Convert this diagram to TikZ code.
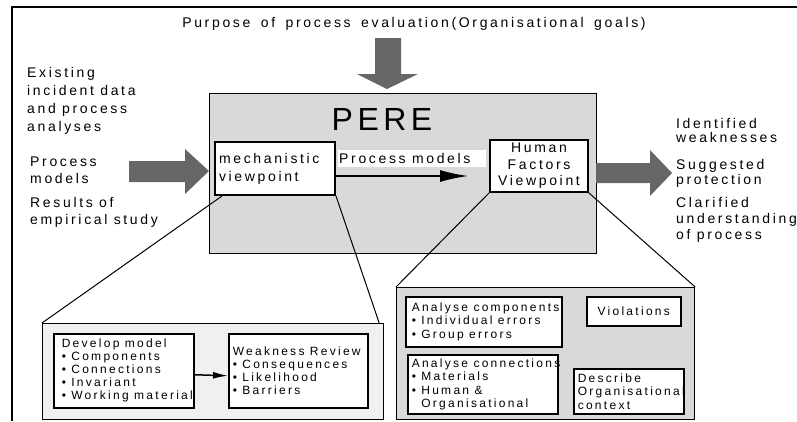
\documentclass[tikz,border=0pt]{standalone}
\usepackage{fontspec}
\setmainfont{Liberation Sans}[LetterSpace=19, WordSpace=1.6]
\usetikzlibrary{arrows.meta}
\hyphenpenalty=10000

\definecolor{perefill}{gray}{0.85}
\definecolor{zoomfill}{gray}{0.94}
\definecolor{arrowfill}{gray}{0.4}

\begin{document}
\begin{tikzpicture}[x=1pt,y=-1pt,
	widespace/.style={execute at begin node={\spaceskip=.45em\relax}},
	sidetext/.style={widespace, anchor=base west, align=left, inner sep=0pt, font=\fontsize{14}{18}\selectfont},
	outtext/.style={sidetext, font=\fontsize{14}{15}\selectfont},
	viewbox/.style={widespace, draw, line width=2pt, fill=white, anchor=north west, inner xsep=4pt, inner ysep=0pt, font=\fontsize{14}{18}\selectfont},
	itembox/.style={widespace, draw, line width=1.5pt, fill=white, anchor=north west, inner xsep=4pt, inner ysep=0pt, align=left, font=\fontsize{12}{13}\selectfont},
	zoombox/.style={draw, line width=1.2pt, anchor=north west, inner sep=0pt},
	zoomline/.style={line width=1pt},
	blockarrow/.style={fill=arrowfill}]
	\useasboundingbox (0,0) rectangle (797,421);
	% frame
	\draw[line width=1.5pt] (12,421) -- (12,7) -- (797,7);

	% goals
	\node[anchor=base, inner sep=0pt, font=\fontsize{14}{18}\selectfont] (goals) at (414,27) {Purpose of process evaluation(Organisational goals)};
	\fill[blockarrow] (375,38) -- (401,38) -- (401,74) -- (418,74) -- (387,89) -- (357,74) -- (375,74) -- cycle;

	% inputs
	\node[sidetext] (existing) at (27,131) {Existing\\incident data\\and process\\analyses};
	\node[sidetext, font=\fontsize{14}{17}\selectfont] (procin) at (30,183) {Process\\models};
	\node[sidetext, font=\fontsize{14}{17}\selectfont] (results) at (30,224) {Results of\\empirical study};
	\fill[blockarrow] (129,161) -- (185,161) -- (185,149) -- (209,171) -- (185,194) -- (185,182) -- (129,182) -- cycle;

	% PERE
	\node[draw, line width=1.2pt, fill=perefill, minimum width=387pt, minimum height=160pt, anchor=north west] (pere) at (209,93) {};
	\node[anchor=base, inner sep=0pt, font=\fontsize{32}{32}\selectfont\addfontfeature{LetterSpace=14}] (title) at (382,130) {PERE};
	\node[viewbox, text width=112pt, minimum height=53pt, align=left] (mech) at (214,141) {mechanistic\\viewpoint};
	\node[viewbox, text width=90pt, minimum height=52pt, align=center, font=\fontsize{14}{16.5}\selectfont] (hf) at (489,139) {Human\\Factors\\Viewpoint};
	\node[widespace, fill=white, anchor=north west, text width=146pt, minimum height=17pt, inner xsep=1pt, inner ysep=0pt, align=left, font=\fontsize{14}{17}\selectfont] (modellabel) at (338,150) {Process models};
	\coordinate (modelend) at (468,176);
	\draw[line width=1.5pt, -{Latex[length=28pt,width=12pt]}] (mech.east |- modelend) -- (modelend);

	% outputs
	\fill[blockarrow] (596,163) -- (650,163) -- (650,150) -- (672,173) -- (650,196) -- (650,183) -- (596,183) -- cycle;
	\node[outtext, font=\fontsize{14}{14}\selectfont] (weak) at (676,142) {Identified\\weaknesses};
	\node[outtext] (protect) at (676,184) {Suggested\\protection};
	\node[outtext, font=\fontsize{14}{16}\selectfont] (clarify) at (676,239) {Clarified\\understanding\\of process};

	% mechanistic zoom
	\node[zoombox, fill=zoomfill, minimum width=341pt, minimum height=96pt] (zleft) at (42,323) {};
	\draw[zoomline] ([xshift=8pt]mech.south west) -- (zleft.north west);
	\draw[zoomline] (mech.south east) -- ([xshift=-5pt]zleft.north east);
	\node[itembox, inner xsep=8pt, text width=124pt, minimum height=74pt] (develop) at (53,333) {Develop~model\\\textbullet~Components\\\textbullet~Connections\\\textbullet~Invariant\\\textbullet~Working~material};
	\node[itembox, text width=131pt, minimum height=74pt] (weakness) at (228,333) {Weakness~Review\\\textbullet~Consequences\\\textbullet~Likelihood\\\textbullet~Barriers};
	\draw[line width=1.5pt, -{Latex[length=15pt,width=7pt]}] ([yshift=-4pt]develop.east) -- ([yshift=-5pt]weakness.west);

	% human factors zoom
	\node[zoombox, fill=perefill, minimum width=298pt, minimum height=132pt] (zright) at (396,287) {};
	\draw[zoomline] (hf.south west) -- (zright.north west);
	\draw[zoomline] (hf.south east) -- (zright.north east);
	\node[itembox, inner xsep=6pt, text width=144pt, minimum height=50pt, font=\fontsize{12}{13.5}\selectfont] (components) at (405,296) {Analyse~components\\\textbullet~Individual~errors\\\textbullet~Group~errors};
	\node[itembox, text width=86pt, minimum height=29pt, align=center] (violations) at (586,296) {Violations};
	\node[itembox, text width=142pt, minimum height=59pt, font=\fontsize{12}{13.5}\selectfont] (connections) at (407,354) {Analyse~connections\\\textbullet~Materials\\\textbullet~Human~\&\\\hphantom{\textbullet}~Organisational};
	\node[itembox, text width=102pt, minimum height=45pt, font=\fontsize{12}{13.5}\selectfont] (context) at (573,368) {Describe\\Organisational\\context};
\end{tikzpicture}
\end{document}
